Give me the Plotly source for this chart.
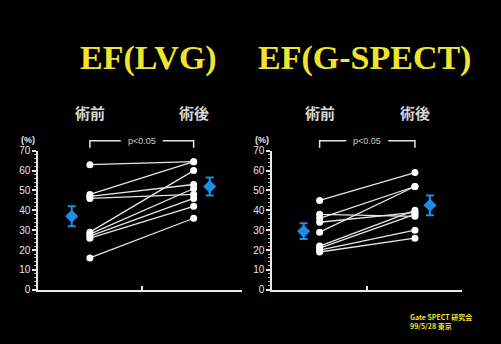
import plotly.graph_objects as go

# ---- data ----
lvg_pre = [63, 48, 47, 46, 29, 28, 27, 26, 16]
lvg_post = [64.5, 64.5, 53, 48, 60, 51, 46, 42, 36]
lvg_mean = [37, 52]
lvg_err = [5, 4.5]

gs_pre = [45, 38, 36, 34, 29, 22, 21, 20, 19]
gs_post = [59, 37, 52, 39, 52, 40, 38, 30, 26]
gs_mean = [29.5, 42.5]
gs_err = [4, 5]

phase_labels = ["術前", "術後"]
titles = ["EF(LVG)", "EF(G-SPECT)"]
p_text = "p<0.05"
y_ticks = [0, 10, 20, 30, 40, 50, 60, 70]
footer = ["Gate SPECT 研究会", "99/5/28 東京"]

W, H = 501, 344
YEL = "#efe52e"
WHITE = "#e6e6e6"
BLUE = "#1a8fe6"

panels = [
    dict(pre=lvg_pre, post=lvg_post, mean=lvg_mean, err=lvg_err,
         dom=[38 / W, 242 / W], rng=[0.5, 2.466], moff=[-0.175, 0.155]),
    dict(pre=gs_pre, post=gs_post, mean=gs_mean, err=gs_err,
         dom=[272 / W, 462 / W], rng=[0.5, 2.494], moff=[-0.168, 0.158]),
]
ydom = [1 - 294 / H, 1 - 150 / H]

fig = go.Figure()
layout = dict(width=W, height=H, margin=dict(l=0, r=0, t=0, b=0),
              paper_bgcolor="black", plot_bgcolor="black", showlegend=False)

def xpaper(p, x):
    d0, d1 = p["dom"]
    r0, r1 = p["rng"]
    return d0 + (x - r0) / (r1 - r0) * (d1 - d0)

def txt(x, y, text, font, xanchor="center", align="center"):
    return dict(x=x, y=y, xref="paper", yref="paper", text=text, showarrow=False,
                xanchor=xanchor, yanchor="middle", font=font, align=align)

shapes, annos = [], []
for i, p in enumerate(panels):
    xa = "x" if i == 0 else "x2"
    ya = "y" if i == 0 else "y2"
    for a, b in zip(p["pre"], p["post"]):
        fig.add_trace(go.Scatter(x=[1, 2], y=[a, b], xaxis=xa, yaxis=ya, mode="lines+markers",
                                 line=dict(color=WHITE, width=1.3),
                                 marker=dict(color="white", size=7, line=dict(width=0)),
                                 cliponaxis=False, hoverinfo="skip"))
    fig.add_trace(go.Scatter(x=[1 + p["moff"][0], 2 + p["moff"][1]], y=p["mean"], xaxis=xa, yaxis=ya,
                             mode="markers",
                             marker=dict(color=BLUE, size=10, symbol="diamond"),
                             error_y=dict(type="data", array=p["err"], color=BLUE, thickness=2, width=4),
                             cliponaxis=False, hoverinfo="skip"))
    ax = dict(domain=p["dom"], range=p["rng"], showgrid=False, zeroline=False,
              showline=True, linecolor=WHITE, linewidth=1.5, showticklabels=False,
              tickvals=[1.5, p["rng"][1]], ticks="inside", ticklen=4, tickcolor=WHITE, tickwidth=1.5,
              anchor=ya)
    ay = dict(domain=ydom, range=[0, 70], showgrid=False, zeroline=False,
              showline=True, linecolor=WHITE, linewidth=1.5,
              tickvals=y_ticks, ticks="outside", ticklen=4, tickcolor=WHITE, tickwidth=1.5,
              minor=dict(dtick=2, ticks="outside", ticklen=2, tickcolor="#bbbbbb", tickwidth=1),
              tickfont=dict(family="Liberation Sans", size=10, color=WHITE), anchor=xa)
    layout["xaxis" if i == 0 else "xaxis2"] = ax
    layout["yaxis" if i == 0 else "yaxis2"] = ay

    # bracket
    x1, x2 = xpaper(p, 1), xpaper(p, 2)
    ytop = 1 - 139.5 / H
    ybot = 1 - 147 / H
    xm = (x1 + x2) / 2
    gap = 21 / W
    shapes.append(dict(type="path", xref="paper", yref="paper",
                       path=f"M {x1} {ybot} L {x1} {ytop} L {xm - gap} {ytop}",
                       line=dict(color=WHITE, width=1.5)))
    shapes.append(dict(type="path", xref="paper", yref="paper",
                       path=f"M {xm + gap} {ytop} L {x2} {ytop} L {x2} {ybot}",
                       line=dict(color=WHITE, width=1.5)))
    annos.append(txt(xm, ytop, p_text, dict(family="Liberation Sans", size=9, color="#cccccc")))
    # phase labels
    for k, lab in enumerate(phase_labels):
        annos.append(txt(xpaper(p, 1 + k), 1 - 110 / H, lab,
                         dict(family="Noto Sans CJK JP", size=15, color="#d8d8d8", weight="bold")))
    # (%)
    annos.append(txt(p["dom"][0] - 1 / W, 1 - 138.5 / H, "(%)",
                     dict(family="Liberation Sans", size=9, color=WHITE, weight="bold"), xanchor="right"))

# titles
annos.append(txt(148 / W, 1 - 54 / H, titles[0],
                 dict(family="Liberation Serif", size=34, color=YEL, weight="bold")))
annos.append(txt(364 / W, 1 - 54 / H, titles[1],
                 dict(family="Liberation Serif", size=34, color=YEL, weight="bold")))
# footer
annos.append(txt(408 / W, 1 - 327 / H, "<br>".join(footer),
                 dict(family="Noto Sans CJK JP", size=7, color=YEL, weight="bold"),
                 xanchor="left", align="left"))

layout["shapes"] = shapes
layout["annotations"] = annos
fig.update_layout(**layout)
fig.write_html("out.html", config={"displayModeBar": False},
               post_script="document.body.style.margin='0';document.body.style.background='black';")
